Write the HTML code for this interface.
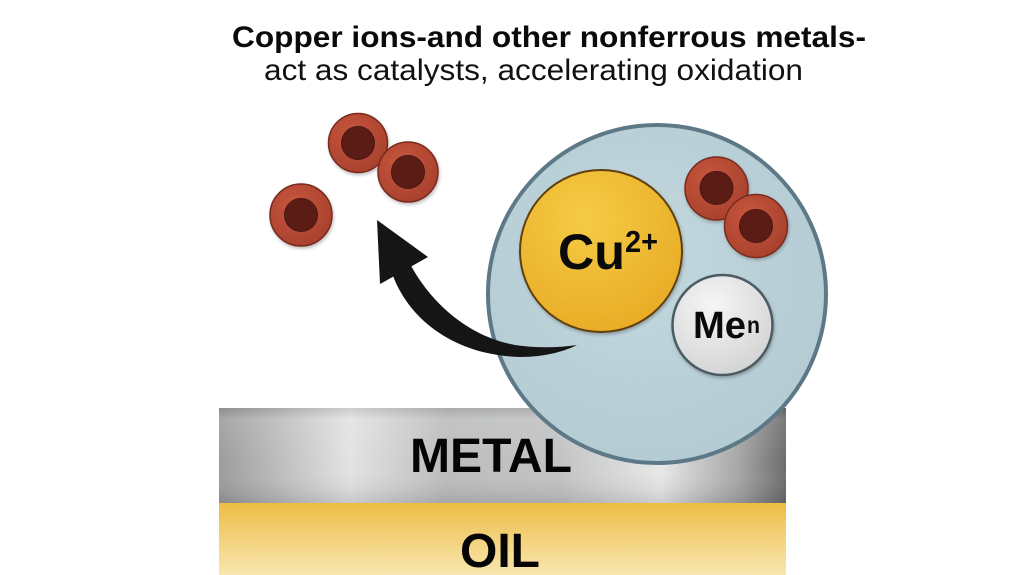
<!DOCTYPE html>
<html>
<head>
<meta charset="utf-8">
<style>
html,body{margin:0;padding:0;background:#ffffff;}
body{width:1022px;height:575px;overflow:hidden;}
svg{display:block;}
</style>
</head>
<body>
<svg width="1022" height="575" viewBox="0 0 1022 575" xmlns="http://www.w3.org/2000/svg">
<defs>
  <linearGradient id="metalH" x1="219" y1="0" x2="786" y2="0" gradientUnits="userSpaceOnUse">
    <stop offset="0" stop-color="#9c9c9c"/>
    <stop offset="0.08" stop-color="#b4b5b6"/>
    <stop offset="0.23" stop-color="#e2e3e4"/>
    <stop offset="0.40" stop-color="#bcbdbe"/>
    <stop offset="0.60" stop-color="#c2c3c4"/>
    <stop offset="0.78" stop-color="#e8e8e8"/>
    <stop offset="0.92" stop-color="#a4a4a4"/>
    <stop offset="1" stop-color="#6c6c6c"/>
  </linearGradient>
  <linearGradient id="metalV" x1="0" y1="408" x2="0" y2="503" gradientUnits="userSpaceOnUse">
    <stop offset="0" stop-color="#000" stop-opacity="0.10"/>
    <stop offset="0.12" stop-color="#fff" stop-opacity="0.10"/>
    <stop offset="0.6" stop-color="#fff" stop-opacity="0.0"/>
    <stop offset="1" stop-color="#000" stop-opacity="0.12"/>
  </linearGradient>
  <linearGradient id="oil" x1="0" y1="503" x2="0" y2="575" gradientUnits="userSpaceOnUse">
    <stop offset="0" stop-color="#ecbd44"/>
    <stop offset="0.5" stop-color="#f3d27c"/>
    <stop offset="1" stop-color="#f8e6ae"/>
  </linearGradient>
  <radialGradient id="big" cx="0.45" cy="0.4" r="0.65">
    <stop offset="0" stop-color="#c3d7de"/>
    <stop offset="1" stop-color="#b3cbd3"/>
  </radialGradient>
  <radialGradient id="cu" cx="0.4" cy="0.3" r="0.8">
    <stop offset="0" stop-color="#f6cb45"/>
    <stop offset="1" stop-color="#e7a923"/>
  </radialGradient>
  <radialGradient id="me" cx="0.4" cy="0.3" r="0.8">
    <stop offset="0" stop-color="#f6f6f6"/>
    <stop offset="1" stop-color="#cfd0d0"/>
  </radialGradient>
  <radialGradient id="disc" cx="0.4" cy="0.35" r="0.7">
    <stop offset="0" stop-color="#c8573e"/>
    <stop offset="1" stop-color="#a6402c"/>
  </radialGradient>
  <filter id="sh" x="-20%" y="-20%" width="140%" height="140%">
    <feDropShadow dx="1" dy="2" stdDeviation="1.5" flood-color="#000" flood-opacity="0.25"/>
  </filter>
</defs>

<!-- Title -->
<text x="232" y="47" font-family="'Liberation Sans', Arial, sans-serif" font-weight="bold" font-size="30" fill="#0a0a0a" textLength="634" lengthAdjust="spacingAndGlyphs">Copper ions-and other nonferrous metals-</text>
<text x="264" y="80" font-family="'Liberation Sans', Arial, sans-serif" font-size="30" fill="#111" textLength="539" lengthAdjust="spacingAndGlyphs">act as catalysts, accelerating oxidation</text>

<!-- Metal bar -->
<rect x="219" y="408" width="567" height="95" fill="url(#metalH)"/>
<rect x="219" y="408" width="567" height="95" fill="url(#metalV)"/>
<!-- Oil bar -->
<rect x="219" y="503" width="567" height="72" fill="url(#oil)"/>

<text x="410" y="472" font-family="'Liberation Sans', Arial, sans-serif" font-weight="bold" font-size="48" fill="#050505" textLength="162" lengthAdjust="spacingAndGlyphs">METAL</text>
<text x="460" y="567" font-family="'Liberation Sans', Arial, sans-serif" font-weight="bold" font-size="48" fill="#050505" textLength="80" lengthAdjust="spacingAndGlyphs">OIL</text>

<!-- Outside discs -->
<g filter="url(#sh)">
  <circle cx="358" cy="143" r="29.5" fill="url(#disc)" stroke="#7a2a1f" stroke-width="1.5"/>
  <circle cx="358" cy="143" r="16.5" fill="#5c1e19" stroke="#4a1612" stroke-width="1"/>
  <circle cx="408" cy="172" r="30" fill="url(#disc)" stroke="#7a2a1f" stroke-width="1.5"/>
  <circle cx="408" cy="172" r="16.5" fill="#5c1e19" stroke="#4a1612" stroke-width="1"/>
  <circle cx="301" cy="215" r="31" fill="url(#disc)" stroke="#7a2a1f" stroke-width="1.5"/>
  <circle cx="301" cy="215" r="16.5" fill="#5c1e19" stroke="#4a1612" stroke-width="1"/>
</g>

<!-- Big circle -->
<circle cx="657" cy="294" r="169" fill="url(#big)" stroke="#5d7886" stroke-width="4"/>

<!-- Arrow -->
<path d="M 391,270 C 405,315 450,355 520,357 C 546,357 565,351 577,345 C 556,348 536,348 515,345 C 466,336 428,300 408,260 Z" fill="#151515"/>
<path d="M 377,220 L 380,284 L 428,257 Z" fill="#151515"/>

<!-- Cu circle -->
<g filter="url(#sh)">
  <circle cx="601" cy="251" r="81" fill="url(#cu)" stroke="#5e4010" stroke-width="2"/>
</g>
<text x="558" y="269" font-family="'Liberation Sans', Arial, sans-serif" font-weight="bold" font-size="50" fill="#0a0a0a" textLength="67" lengthAdjust="spacingAndGlyphs">Cu</text>
<text x="625" y="252" font-family="'Liberation Sans', Arial, sans-serif" font-weight="bold" font-size="31" fill="#0a0a0a" textLength="33" lengthAdjust="spacingAndGlyphs">2+</text>

<!-- Inner discs -->
<g filter="url(#sh)">
  <circle cx="716.5" cy="188.5" r="31.5" fill="url(#disc)" stroke="#7a2a1f" stroke-width="1.5"/>
  <circle cx="716.5" cy="188" r="16.5" fill="#5c1e19" stroke="#4a1612" stroke-width="1"/>
  <circle cx="756" cy="226" r="31.5" fill="url(#disc)" stroke="#7a2a1f" stroke-width="1.5"/>
  <circle cx="756" cy="226" r="16.5" fill="#5c1e19" stroke="#4a1612" stroke-width="1"/>
</g>

<!-- Me circle -->
<g filter="url(#sh)">
  <circle cx="722.5" cy="325" r="50" fill="url(#me)" stroke="#4b5a63" stroke-width="2.5"/>
</g>
<text x="693" y="338" font-family="'Liberation Sans', Arial, sans-serif" font-weight="bold" font-size="38" fill="#0a0a0a" textLength="53" lengthAdjust="spacingAndGlyphs">Me</text>
<text x="747" y="333" font-family="'Liberation Sans', Arial, sans-serif" font-weight="bold" font-size="23" fill="#0a0a0a" textLength="13" lengthAdjust="spacingAndGlyphs">n</text>
</svg>
</body>
</html>
